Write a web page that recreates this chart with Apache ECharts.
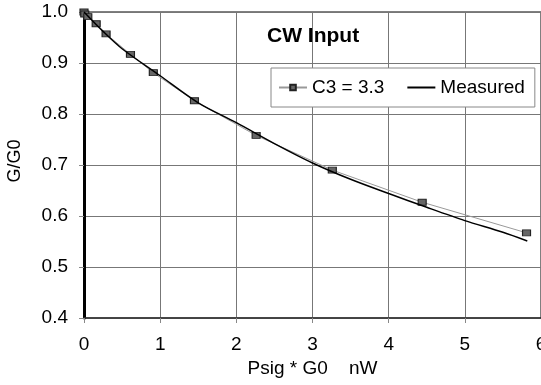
<!DOCTYPE html>
<html>
<head>
<meta charset="utf-8">
<script src="https://cdn.jsdelivr.net/npm/echarts@6/dist/echarts.min.js"></script>
<style>
  html, body { margin: 0; padding: 0; background: #fff; }
  #chart { width: 541px; height: 385px; }
</style>
</head>
<body>
<div id="chart"></div>
<script>
// C3 = 3.3 model points (markers)
const c3X = [0, 0.01, 0.05, 0.16, 0.29, 0.61, 0.91, 1.45, 2.26, 3.26, 4.44, 5.81]
const c3Y = [1.0, 0.996, 0.991, 0.977, 0.957, 0.917, 0.881, 0.826, 0.758, 0.69, 0.627, 0.567]

// measured curve
const measX = [0, 0.25, 0.5, 1.0, 1.5, 2.0, 2.5, 3.0, 3.5, 4.0, 4.5, 5.0, 5.5, 5.82]
const measY = [1.0, 0.962, 0.928, 0.875, 0.822, 0.783, 0.742, 0.704, 0.672, 0.644, 0.617, 0.591, 0.568, 0.551]

const xTicks = [0, 1, 2, 3, 4, 5, 6]
const yTicks = [0.4, 0.5, 0.6, 0.7, 0.8, 0.9, 1.0]

const font = 'Liberation Sans, Arial, sans-serif'
const zip = (xs, ys) => xs.map((x, i) => [x, ys[i]])

const chart = echarts.init(document.getElementById('chart'))
chart.setOption({
  animation: false,
  textStyle: { fontFamily: font, color: '#000' },
  title: {
    text: 'CW Input',
    left: 267,
    top: 26,
    padding: 0,
    textStyle: { fontFamily: font, fontSize: 21, fontWeight: 'bold', color: '#000' },
  },
  legend: {
    left: 271,
    top: 68,
    padding: [10, 10, 10, 7],
    itemWidth: 28,
    itemHeight: 7,
    itemGap: 22,
    backgroundColor: '#fff',
    borderColor: '#888',
    borderWidth: 1,
    textStyle: { fontFamily: font, fontSize: 19, color: '#000' },
    data: [
      { name: 'C3 = 3.3' },
      { name: 'Measured', itemStyle: { opacity: 0 } },
    ],
  },
  grid: {
    left: 84, right: 0, top: 12, bottom: 67,
    outerBoundsMode: 'none',
    show: true, borderColor: '#000', borderWidth: 1,
  },
  xAxis: {
    type: 'value',
    min: xTicks[0],
    max: xTicks[xTicks.length - 1],
    interval: 1,
    name: 'Psig * G0    nW',
    nameLocation: 'middle',
    nameGap: 30,
    nameTextStyle: { fontFamily: font, fontSize: 19, color: '#000' },
    axisLine: { onZero: false, lineStyle: { color: '#333', width: 1.5 } },
    axisTick: { length: 5, lineStyle: { color: '#888' } },
    axisLabel: { fontFamily: font, fontSize: 19, color: '#000', margin: 17 },
    splitLine: { lineStyle: { color: '#777', width: 1 } },
  },
  yAxis: {
    type: 'value',
    min: yTicks[0],
    max: yTicks[yTicks.length - 1],
    interval: 0.1,
    name: 'G/G0',
    nameLocation: 'middle',
    nameGap: 60,
    nameTextStyle: { fontFamily: font, fontSize: 18, color: '#000', padding: [0, 0, 0, 8] },
    axisLine: { show: true, onZero: false, lineStyle: { color: '#000', width: 3 } },
    axisTick: { show: true, length: 5, lineStyle: { color: '#888' } },
    axisLabel: {
      fontFamily: font, fontSize: 19, color: '#000', margin: 16,
      formatter: (v) => v.toFixed(1),
    },
    splitLine: { lineStyle: { color: '#777', width: 1 } },
  },
  series: [
    {
      name: 'C3 = 3.3',
      type: 'line',
      clip: false,
      data: zip(c3X, c3Y),
      symbol: 'rect',
      symbolSize: [8, 6],
      lineStyle: { color: '#999', width: 1 },
      itemStyle: { color: '#666', borderColor: '#222', borderWidth: 1 },
      z: 2,
    },
    {
      name: 'Measured',
      type: 'line',
      clip: false,
      data: zip(measX, measY),
      symbol: 'none',
      smooth: 0.3,
      lineStyle: { color: '#000', width: 1.5 },
      itemStyle: { color: '#000' },
      z: 3,
    },
  ],
})
</script>
</body>
</html>
